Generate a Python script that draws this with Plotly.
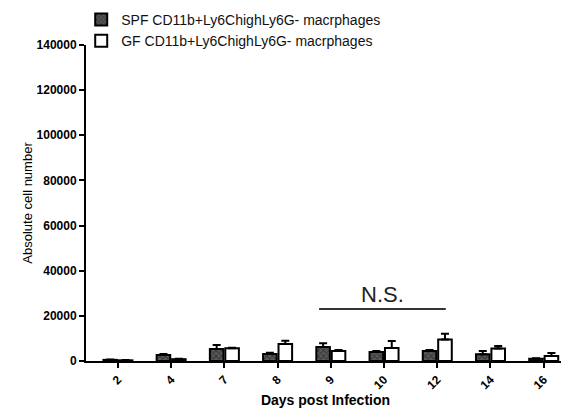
import plotly.graph_objects as go

days = ["2", "4", "7", "8", "9", "10", "12", "14", "16"]
spf_mean = [500, 2700, 5300, 3100, 6200, 4000, 4400, 3000, 1000]
spf_err = [200, 400, 1800, 500, 1700, 400, 500, 1400, 200]
gf_mean = [300, 800, 5600, 7500, 4400, 5800, 9500, 5500, 2200]
gf_err = [100, 200, 300, 1500, 500, 3100, 2600, 1100, 1300]
y_ticks = [0, 20000, 40000, 60000, 80000, 100000, 120000, 140000]
ns_span = [3.78, 6.16]
ns_level = 23000

FONT = "Liberation Sans, Arial, sans-serif"
xi = list(range(len(days)))

fig = go.Figure()
fig.add_trace(go.Bar(
    x=xi, y=spf_mean, name="SPF CD11b+Ly6ChighLy6G- macrphages",
    marker=dict(color="#5a5a5a", line=dict(color="black", width=2),
                pattern=dict(shape="x", fgcolor="#1a1a1a", size=4, solidity=0.5)),
    error_y=dict(type="data", symmetric=False, array=spf_err,
                 arrayminus=[0] * len(days), color="black", thickness=2, width=4),
))
fig.add_trace(go.Bar(
    x=xi, y=gf_mean, name="GF CD11b+Ly6ChighLy6G- macrphages",
    marker=dict(color="white", line=dict(color="black", width=2)),
    error_y=dict(type="data", symmetric=False, array=gf_err,
                 arrayminus=[0] * len(days), color="black", thickness=2, width=4),
))

fig.add_shape(type="line", xref="x", yref="y", x0=ns_span[0], x1=ns_span[1],
              y0=ns_level, y1=ns_level, line=dict(color="#333", width=2))
fig.add_annotation(x=sum(ns_span) / 2, y=ns_level, xref="x", yref="y",
                   text="N.S.", showarrow=False, yanchor="bottom", yshift=0,
                   font=dict(family=FONT, size=22, color="#222"))

fig.update_layout(
    width=561, height=401,
    margin=dict(l=78, r=4, t=37, b=48, autoexpand=False),
    paper_bgcolor="white", plot_bgcolor="white",
    barmode="group", bargap=0.42, bargroupgap=0.12,
    font=dict(family=FONT, color="black"),
    legend=dict(x=-0.01, y=1.13, xanchor="left", yanchor="top",
                font=dict(family=FONT, size=14, color="#111"),
                bgcolor="rgba(0,0,0,0)", tracegroupgap=0, itemwidth=30),
    xaxis=dict(range=[-0.6, 8.4], tickvals=xi, ticktext=days, tickangle=-45,
               automargin=False,
               showline=True, linecolor="black", linewidth=2,
               ticks="outside", ticklen=5, tickwidth=2, tickcolor="black",
               showgrid=False, zeroline=False,
               tickfont=dict(family=FONT, size=12, color="black", weight="bold"),
               title=dict(text="<b>Days post Infection</b>", standoff=3,
                          font=dict(family=FONT, size=14, color="black"))),
    yaxis=dict(range=[0, 140000], tickvals=y_ticks,
               ticktext=[str(v) for v in y_ticks], automargin=False,
               showline=True, linecolor="black", linewidth=2,
               ticks="outside", ticklen=5, tickwidth=2, tickcolor="black",
               showgrid=False, zeroline=False,
               tickfont=dict(family=FONT, size=12, color="black", weight="bold"),
               title=dict(text="Absolute cell number", standoff=1,
                          font=dict(family=FONT, size=13, color="black"))),
)

fig.write_html("out.html")
